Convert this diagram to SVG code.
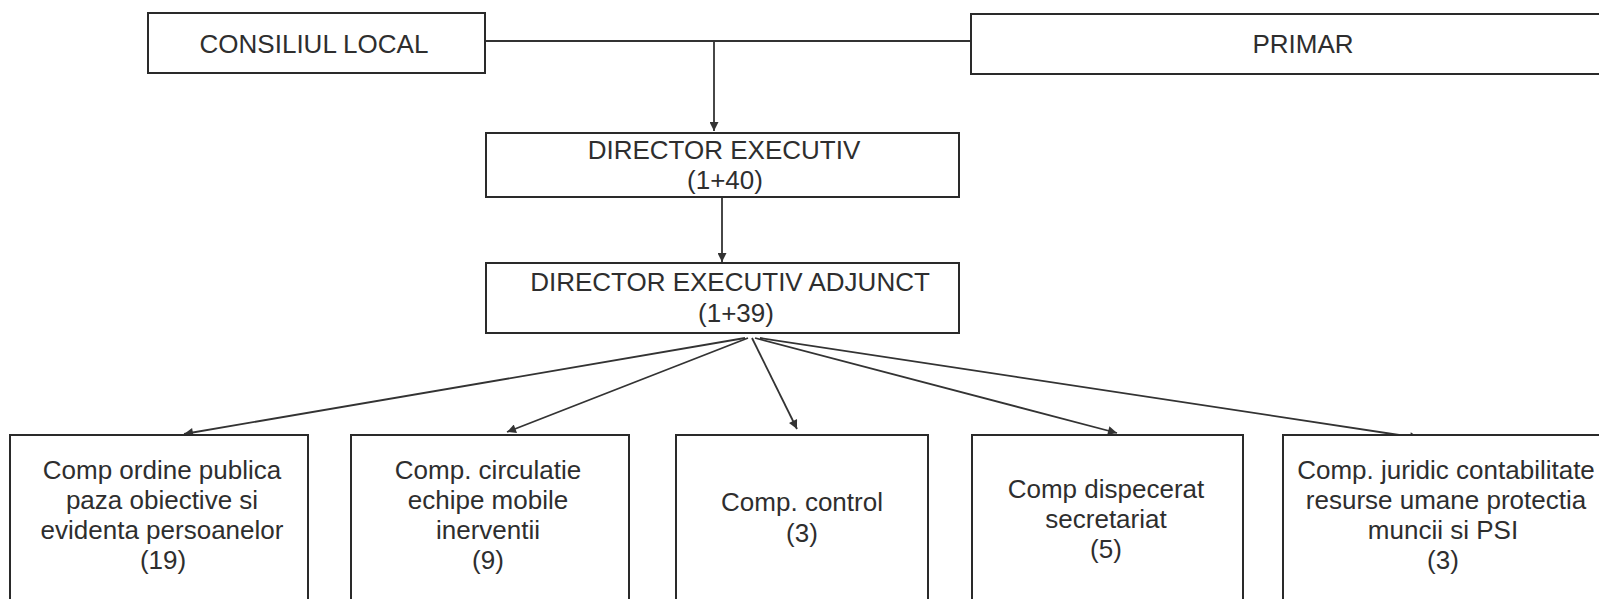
<svg xmlns="http://www.w3.org/2000/svg" width="1599" height="599" viewBox="0 0 1599 599">
<style>
.box{fill:#fff;stroke:#2a2a2a;stroke-width:2}
.t{font-family:"Liberation Sans",Arial,sans-serif;font-size:26px;fill:#2e2e2e;text-anchor:middle;dominant-baseline:central}
.c{stroke:#333;stroke-width:1.8;fill:none}
</style>
<defs>
<marker id="ah" viewBox="0 0 10 10" refX="10" refY="5" markerWidth="6" markerHeight="5" markerUnits="strokeWidth" orient="auto">
<path d="M0,0 L10,5 L0,10 Z" fill="#333"/>
</marker>
</defs>
<rect width="1599" height="599" fill="#fff"/>
<g id="connectors">
<path class="c" d="M485,41 H971"/>
<path class="c" d="M714,41 V131" marker-end="url(#ah)"/>
<path class="c" d="M722,197 V262" marker-end="url(#ah)"/>
<path class="c" d="M745,338 L184,434" marker-end="url(#ah)"/>
<path class="c" d="M748,338 L507,432" marker-end="url(#ah)"/>
<path class="c" d="M752,338 L797,429" marker-end="url(#ah)"/>
<path class="c" d="M755,338 L1117,433" marker-end="url(#ah)"/>
<path class="c" d="M760,338 L1419,438" marker-end="url(#ah)"/>
</g>
<g id="consiliul">
<rect class="box" x="148" y="13" width="337" height="60"/>
<text class="t" x="314" y="44">CONSILIUL LOCAL</text>
</g>
<g id="primar">
<rect class="box" x="971" y="14" width="640" height="60"/>
<text class="t" x="1303" y="44">PRIMAR</text>
</g>
<g id="director">
<rect class="box" x="486" y="133" width="473" height="64"/>
<text class="t" x="724" y="150">DIRECTOR EXECUTIV</text>
<text class="t" x="725" y="180">(1+40)</text>
</g>
<g id="adjunct">
<rect class="box" x="486" y="263" width="473" height="70"/>
<text class="t" x="730" y="282">DIRECTOR EXECUTIV ADJUNCT</text>
<text class="t" x="736" y="313">(1+39)</text>
</g>
<g id="ordine">
<rect class="box" x="10" y="435" width="298" height="175"/>
<text class="t" x="162" y="470">Comp ordine publica</text>
<text class="t" x="162" y="500">paza obiective si</text>
<text class="t" x="162" y="530">evidenta persoanelor</text>
<text class="t" x="163" y="560">(19)</text>
</g>
<g id="circulatie">
<rect class="box" x="351" y="435" width="278" height="175"/>
<text class="t" x="488" y="470">Comp. circulatie</text>
<text class="t" x="488" y="500">echipe mobile</text>
<text class="t" x="488" y="530">inerventii</text>
<text class="t" x="488" y="560">(9)</text>
</g>
<g id="control">
<rect class="box" x="676" y="435" width="252" height="175"/>
<text class="t" x="802" y="502">Comp. control</text>
<text class="t" x="802" y="533">(3)</text>
</g>
<g id="dispecerat">
<rect class="box" x="972" y="435" width="271" height="175"/>
<text class="t" x="1106" y="489">Comp dispecerat</text>
<text class="t" x="1106" y="519">secretariat</text>
<text class="t" x="1106" y="549">(5)</text>
</g>
<g id="juridic">
<rect class="box" x="1283" y="435" width="330" height="175"/>
<text class="t" x="1446" y="470">Comp. juridic contabilitate</text>
<text class="t" x="1446" y="500">resurse umane protectia</text>
<text class="t" x="1443" y="530">muncii si PSI</text>
<text class="t" x="1443" y="560">(3)</text>
</g>
</svg>
